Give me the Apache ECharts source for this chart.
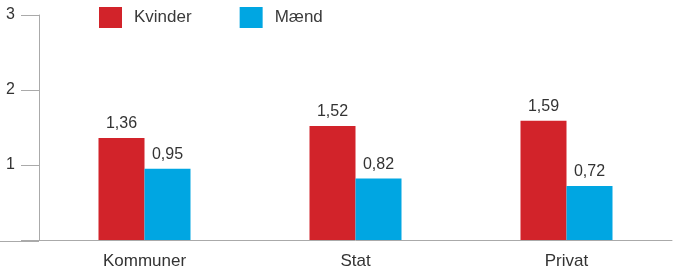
<!DOCTYPE html>
<html lang="da">
<head>
  <meta charset="UTF-8">
  <title>Kvinder og mænd</title>
  <style>
    body { margin: 0; padding: 0; background: #fff; overflow: hidden; }
    #chart { width: 673px; height: 270px; }
  </style>
</head>
<body>
  <div id="chart"></div>
  <script src="https://cdn.jsdelivr.net/npm/echarts@6/dist/echarts.min.js"></script>
  <script>
    var categories = ['Kommuner', 'Stat', 'Privat'];
    var kvinder = [1.36, 1.52, 1.59];
    var maend = [0.95, 0.82, 0.72];
    var yTicks = [0, 1, 2, 3];

    var FONT = 'Liberation Sans, Arial, sans-serif';
    var chart = echarts.init(document.getElementById('chart'));

    function fmt(p) {
      return p.value.toFixed(2).replace('.', ',');
    }

    var option = {
      animation: false,
      textStyle: { fontFamily: FONT },
      legend: {
        left: 94,
        top: 2,
        itemWidth: 23,
        itemHeight: 21,
        itemGap: 48,
        icon: 'rect',
        textStyle: { fontSize: 17, color: '#3a3a3a', fontFamily: FONT, padding: [0, 0, 0, 7] },
        data: ['Kvinder', 'Mænd']
      },
      grid: { left: 39, right: 1, top: 15, bottom: 29 },
      xAxis: {
        type: 'category',
        data: categories,
        axisLine: { lineStyle: { color: '#aaa', width: 1 } },
        axisTick: { show: false },
        splitLine: { show: false },
        axisLabel: { fontSize: 17, color: '#333', margin: 13 }
      },
      yAxis: {
        type: 'value',
        min: yTicks[0],
        max: yTicks[yTicks.length - 1],
        interval: 1,
        splitLine: { show: false },
        axisLine: { show: true, lineStyle: { color: '#aaa', width: 1 } },
        axisTick: { show: true, length: 18, lineStyle: { color: '#aaa' } },
        axisLabel: {
          fontSize: 16,
          color: '#333',
          margin: 24,
          formatter: function (v) { return v === 0 ? '' : String(v); }
        }
      },
      // the baseline continues left of the y axis
      graphic: [{
        type: 'rect',
        left: 0,
        top: 241,
        shape: { width: 39, height: 1 },
        style: { fill: '#aaa' }
      }],
      series: [{
        name: 'Kvinder',
        type: 'bar',
        data: kvinder,
        barWidth: 46,
        barGap: '0%',
        itemStyle: { color: '#d2232a' },
        label: { show: true, position: 'top', distance: 6, fontSize: 16, color: '#333', formatter: fmt }
      }, {
        name: 'Mænd',
        type: 'bar',
        data: maend,
        barWidth: 46,
        itemStyle: { color: '#00a6e2' },
        label: { show: true, position: 'top', distance: 6, fontSize: 16, color: '#333', formatter: fmt }
      }]
    };

    chart.setOption(option);
  </script>
</body>
</html>
